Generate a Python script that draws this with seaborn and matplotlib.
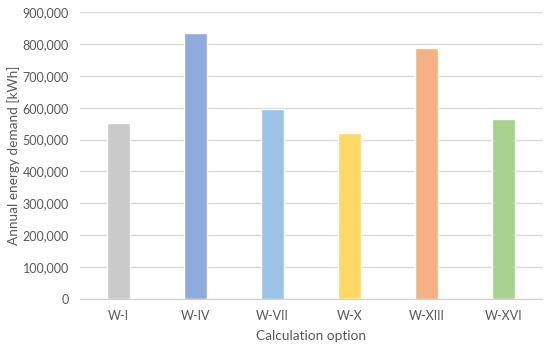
import pandas as pd
import seaborn as sb
import matplotlib.pyplot as plt
from matplotlib.ticker import FuncFormatter

# data
options = ["W-I", "W-IV", "W-VII", "W-X", "W-XIII", "W-XVI"]
demand = [552000, 834000, 597000, 520000, 787000, 563000]
colors = ["#C9C9C9", "#8FAADC", "#9DC3E6", "#FFD966", "#F4B183", "#A9D18E"]

oData = pd.DataFrame({"option": options, "demand": demand})

sb.set_style("white")
plt.rcParams['font.family'] = ['Lato', 'DejaVu Sans']
txt = "#595959"

fig = plt.figure(figsize=(5.5, 3.47), dpi=100, facecolor='w')
ax = fig.add_axes([0.1455, 0.1383, 0.84, 0.8271])

sb.barplot(x="option", y="demand", hue="option", data=oData,
           palette=colors, width=0.31, legend=False, ax=ax, saturation=1)

ax.set_ylim(0, 900000)
ax.set_xlim(-0.5, len(options) - 0.5)
ax.set_yticks(range(0, 900001, 100000))
ax.yaxis.set_major_formatter(FuncFormatter(lambda v, p: f"{int(v):,}"))
ax.grid(axis="y", color="#D9D9D9", linewidth=1)
ax.set_axisbelow(True)
for s in ["top", "right", "left"]:
    ax.spines[s].set_visible(False)
ax.spines["bottom"].set_color("#D0D0D0")
ax.tick_params(axis="both", length=0, labelsize=9, colors=txt, pad=8)
ax.set_xlabel("Calculation option", fontsize=9.8, color=txt, labelpad=6)
ax.set_ylabel("Annual energy demand [kWh]", fontsize=9.8, color=txt)
ax.yaxis.set_label_coords(-0.13, 0.5)

fig.savefig("out.png", dpi=100)
